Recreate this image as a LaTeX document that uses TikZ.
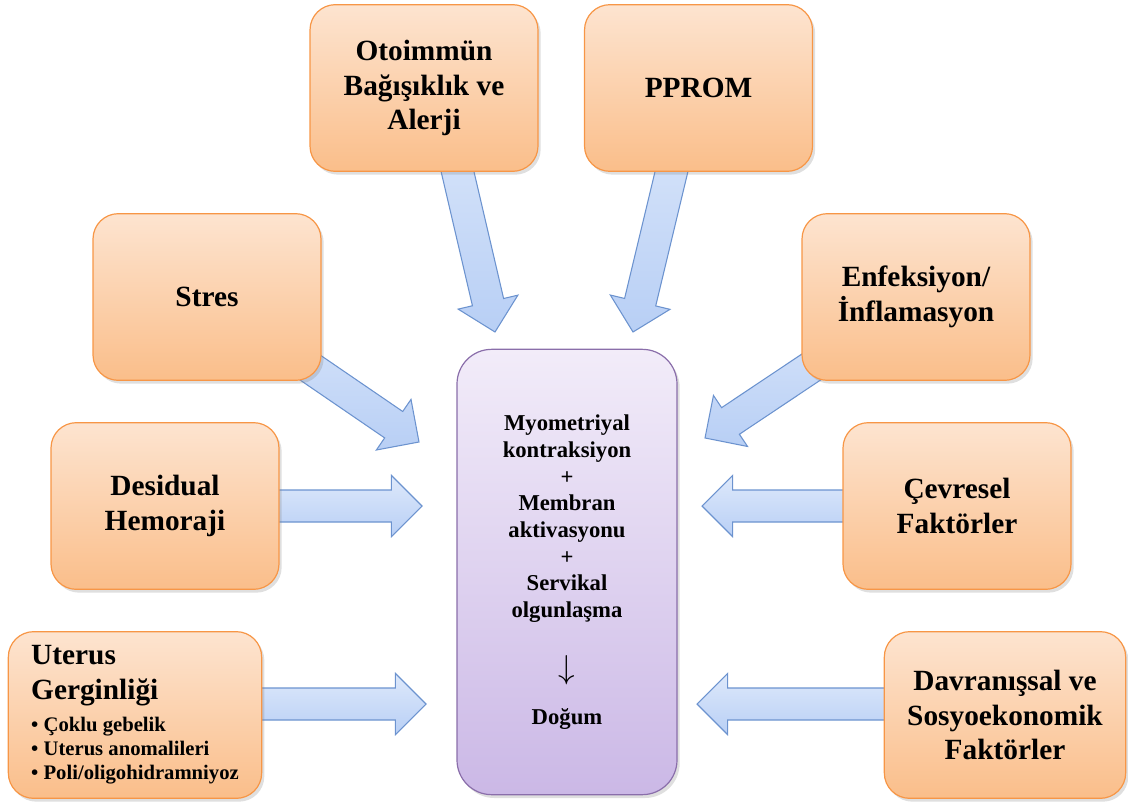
\documentclass[tikz,border=0pt]{standalone}
\usepackage{fontspec}
\setmainfont{Liberation Serif}
\usetikzlibrary{positioning, calc, shadows, backgrounds}

\definecolor{boxtop}{RGB}{253,228,208}
\definecolor{boxbot}{RGB}{250,190,138}
\definecolor{boxline}{RGB}{247,150,70}
\definecolor{coretop}{RGB}{242,236,249}
\definecolor{corebot}{RGB}{203,184,230}
\definecolor{coreline}{RGB}{138,110,170}
\definecolor{flowtop}{RGB}{222,233,251}
\definecolor{flowbot}{RGB}{184,207,245}
\definecolor{flowline}{RGB}{108,147,207}

% block arrow: #1 start, #2 tip
\newcommand{\blockarrow}[2]{%
  \path (#2) coordinate (bt) ($(#2)!23pt!(#1)$) coordinate (bh);
  \draw[flow] ($(#1)!12pt!90:(bt)$) -- ($(bh)!12pt!90:(bt)$) -- ($(bh)!23pt!90:(bt)$)
    -- (bt) -- ($(bh)!23pt!-90:(bt)$) -- ($(bh)!12pt!-90:(bt)$) -- ($(#1)!12pt!-90:(bt)$) -- cycle;}

\begin{document}
\begin{tikzpicture}[x=0.75pt, y=-0.75pt, line join=round,
    cause/.style={draw=boxline, line width=0.9pt, rounded corners=19pt,
                  top color=boxtop, bottom color=boxbot,
                  minimum width=171pt, minimum height=125pt, align=center,
                  font=\fontsize{22}{26}\selectfont\bfseries,
                  drop shadow={opacity=0.25, shadow xshift=2pt, shadow yshift=-2.5pt}},
    core/.style={draw=coreline, line width=0.9pt, rounded corners=26pt,
                 top color=coretop, bottom color=corebot,
                 minimum width=165pt, minimum height=334pt, align=center,
                 font=\fontsize{17}{20}\selectfont\bfseries,
                 drop shadow={opacity=0.25, shadow xshift=2pt, shadow yshift=-2.5pt}},
    flow/.style={draw=flowline, line width=0.8pt, top color=flowtop, bottom color=flowbot}]

\useasboundingbox (0,0) rectangle (1128,803);

% Nodes
\node[core] (birth) at (567,572) {Myometriyal\\kontraksiyon\\+\\Membran\\aktivasyonu\\+\\Servikal\\olgunlaşma\\[24pt]%
  {\fontsize{25}{25}\selectfont$\downarrow$}\\[14pt]Doğum};

\node[cause] (oto) at (424,88) {Otoimmün\\Bağışıklık ve\\Alerji};
\node[cause, right=34pt of oto] (pprom) {PPROM};
\node[cause] (stres) at (207,297) {Stres};
\node[cause] (enf) at (916,297) {Enfeksiyon/\\İnflamasyon};
\node[cause] (desidual) at (165,506) {Desidual\\Hemoraji};
\node[cause] (cevre) at (957,506) {Çevresel\\Faktörler};
\node[cause, minimum width=190pt, align=left] (uterus) at (135,715)
  {Uterus\\Gerginliği\\[-2pt]%
   {\fontsize{15.5}{18}\selectfont\textbullet\ Çoklu gebelik}\\[-8pt]%
   {\fontsize{15.5}{18}\selectfont\textbullet\ Uterus anomalileri}\\[-8pt]%
   {\fontsize{15.5}{18}\selectfont\textbullet\ Poli/oligohidramniyoz}};
\node[cause, minimum width=181pt] (davran) at (1005,715) {Davranışsal ve\\Sosyoekonomik\\Faktörler};

% Arrow tips
\coordinate (tipOto) at (495,332);
\coordinate (tipPprom) at (633,332);
\coordinate (tipStres) at (419,442);
\coordinate (tipEnf) at (705,438);
\coordinate (tipDes) at (422,506);
\coordinate (tipCev) at (702,506);
\coordinate (tipUt) at (426,704);
\coordinate (tipDav) at (697,704);
\coordinate (sOto) at ($(oto)+(14,0)$);
\coordinate (sPprom) at ($(pprom)+(-7,0)$);
\coordinate (sUt) at (uterus |- tipUt);
\coordinate (sDav) at (davran |- tipDav);

% Connections
\begin{pgfonlayer}{background}
\blockarrow{sOto}{tipOto}
\blockarrow{sPprom}{tipPprom}
\blockarrow{stres}{tipStres}
\blockarrow{enf}{tipEnf}
\blockarrow{desidual}{tipDes}
\blockarrow{cevre}{tipCev}
\blockarrow{sUt}{tipUt}
\blockarrow{sDav}{tipDav}
\end{pgfonlayer}
\end{tikzpicture}
\end{document}
